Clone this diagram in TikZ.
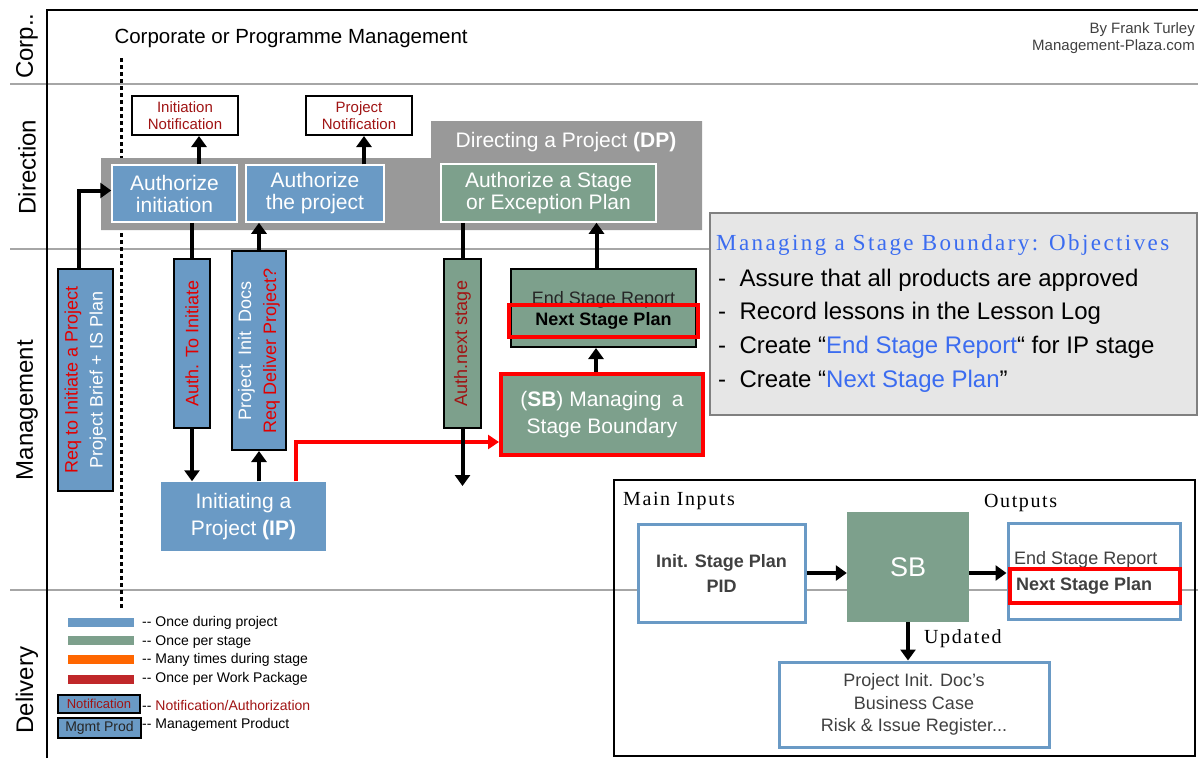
\documentclass[tikz,border=0pt]{standalone}
\usepackage{fontspec}
\setmainfont{Liberation Sans}
\newfontfamily\spacedserif[LetterSpace=8]{Liberation Serif}
\newfontfamily\widerserif[LetterSpace=10.5]{Liberation Serif}
\usetikzlibrary{arrows.meta}

\definecolor{onceproj}{RGB}{106,154,197}
\definecolor{oncestage}{RGB}{125,160,140}
\definecolor{dpgray}{RGB}{153,153,153}
\definecolor{notifred}{RGB}{160,20,20}
\definecolor{reqred}{RGB}{225,0,0}
\definecolor{objblue}{RGB}{59,108,240}
\definecolor{objgray}{RGB}{230,230,230}
\definecolor{lanegray}{RGB}{166,166,166}
\definecolor{textgray}{RGB}{64,64,64}
\definecolor{manyorange}{RGB}{255,102,0}
\definecolor{wpred}{RGB}{192,40,42}

\tikzset{
  lane/.style={lanegray, line width=2pt},
  plain/.style={line width=4pt},
  arr/.style={line width=4pt, -{Triangle[length=11pt,width=15pt]}},
  redarr/.style={red, line width=3.5pt, -{Triangle[length=11pt,width=14pt]}},
  procbox/.style={draw=white, line width=1.5pt, text=white, align=center, inner sep=0pt, font=\fontsize{21}{22}\selectfont},
  notifbox/.style={draw=black, line width=2pt, fill=white, text=notifred, align=center, inner sep=0pt, font=\fontsize{15}{17}\selectfont},
  prodbox/.style={draw=black, line width=2pt, rotate=90, align=center, inner sep=0pt, font=\fontsize{18}{25}\selectfont},
  outline/.style={draw=onceproj, line width=3pt, fill=white, align=center, inner sep=0pt, text=textgray},
  legtext/.style={anchor=west, inner sep=0pt, font=\fontsize{14}{16}\selectfont}
}

\begin{document}
\begin{tikzpicture}[x=1pt, y=-1pt]
\useasboundingbox (0,0) rectangle (1198,758);

\draw[lane] (10,84) -- (1198,84);
\draw[lane] (10,249) -- (1198,249);
\draw[lane] (10,590) -- (1198,590);
\draw[line width=2.5pt] (47,758) -- (47,10) -- (1198,10);

\node[rotate=90, font=\fontsize{24}{26}\selectfont] (lanecorp) at (27,46) {Corp..};
\node[rotate=90, font=\fontsize{24}{26}\selectfont] (lanedir) at (27,167) {Direction};
\node[rotate=90, font=\fontsize{24}{26}\selectfont] (lanemgmt) at (27,410) {Management};
\node[rotate=90, font=\fontsize{24}{26}\selectfont] (lanedel) at (27,690) {Delivery};

\node[anchor=west, font=\fontsize{20.5}{23}\selectfont] (corptitle) at (111,38) {Corporate or Programme Management};
\node[anchor=base east, inner sep=0pt, text=textgray, font=\fontsize{15}{17}\selectfont] (byline) at (1195,33) {By Frank Turley};
\node[anchor=base east, inner sep=0pt, text=textgray, font=\fontsize{15}{17}\selectfont] (siteline) at (1195,50) {Management-Plaza.com};

\draw[line width=3pt, dash pattern=on 4pt off 3pt] (121,58) -- (121,608);

\fill[dpgray] (101,158) -- (431,158) -- (431,121) -- (702,121) -- (702,230) -- (101,230) -- cycle;
\node[text=white, font=\fontsize{21}{23}\selectfont] (dptitle) at (566,142) {Directing a Project \textbf{(DP)}};

\node[procbox, fill=onceproj, minimum width=125pt, minimum height=57pt] (authinit) at (174.5,193.5) {Authorize\\initiation};
\node[procbox, fill=onceproj, minimum width=138pt, minimum height=57pt] (authproj) at (315,193.5) {Authorize\\the project};
\node[procbox, fill=oncestage, minimum width=215pt, minimum height=58pt] (authstage) at (548.5,193) {Authorize a Stage\\or Exception Plan};

\node[notifbox, minimum width=106pt, minimum height=39pt] (initnotif) at (185,115.5) {Initiation\\Notification};
\node[notifbox, minimum width=106pt, minimum height=39pt] (projnotif) at (359,115.5) {Project\\Notification};

\node[prodbox, fill=onceproj, text=white, minimum width=222pt, minimum height=55pt] (reqbox) at (85.5,380) {\textcolor{reqred}{Req to Initiate a Project}\\Project Brief + IS Plan};
\node[prodbox, fill=onceproj, text=reqred, minimum width=169pt, minimum height=36pt] (authto) at (192,343.5) {Auth. To Initiate};
\node[prodbox, fill=onceproj, text=white, minimum width=199pt, minimum height=54pt] (pidbox) at (259,350.5) {Project\enspace Init\enspace Docs\\\textcolor{reqred}{Req Deliver Project?}};
\node[prodbox, fill=oncestage, text=notifred, minimum width=169pt, minimum height=37pt] (nextbox) at (462.5,343.5) {Auth.next stage};

\node[procbox, draw=none, fill=onceproj, minimum width=165pt, minimum height=69pt, font=\fontsize{21}{27}\selectfont] (ip) at (243.5,516.5) {Initiating a\\Project \textbf{(IP)}};

\node[draw=black, line width=2pt, fill=oncestage, minimum width=185pt, minimum height=78pt] (endbox) at (603.5,308) {};
\node[anchor=base, inner sep=0pt, text=black!85, font=\fontsize{18}{20}\selectfont] (endtext) at (603.5,304) {End Stage Report};
\node[draw=red, line width=3.5pt, minimum width=189pt, minimum height=32pt, inner sep=0pt, font=\bfseries\fontsize{18}{20}\selectfont] (nspbox) at (603.5,321) {Next Stage Plan};

\node[procbox, draw=red, line width=4pt, fill=oncestage, minimum width=202pt, minimum height=81pt, font=\fontsize{21}{27}\selectfont] (sb) at (602,414.5) {(\textbf{SB}) Managing\enspace a\\Stage Boundary};

\coordinate (authout) at (462.5,486);
\coordinate (pn) at ([xshift=5pt]projnotif.south);
\coordinate (sbup) at ([xshift=-6pt]sb.north);
\coordinate (endup) at ([xshift=-7pt]endbox.north);

\draw[arr] ([xshift=-6.5pt]reqbox.east) |- ([yshift=3pt]authinit.west);
\draw[arr] ([xshift=24.5pt]authinit.north) -- ([xshift=24.5pt]authinit.north |- initnotif.south);
\draw[arr] (pn |- authproj.north) -- (pn);
\draw[plain] (authto.east |- authinit.south) -- (authto.east);
\draw[arr] (authto.west) -- (authto.west |- ip.north);
\draw[arr] (ip.north -| pidbox.west) -- (pidbox.west);
\draw[arr] (pidbox.east) -- (pidbox.east |- authproj.south);
\draw[redarr] ([xshift=52.5pt]ip.north) |- ([yshift=-27.5pt]sb.west);
\draw[plain] (nextbox.east |- authstage.south) -- (nextbox.east);
\draw[arr] (nextbox.west) -- (authout);
\draw[arr] (sbup) -- (sbup |- endbox.south);
\draw[arr] (endup) -- (endup |- authstage.south);

\draw[draw=gray, line width=2pt, fill=objgray] (710,213) rectangle (1197,415);
\node[anchor=base west, inner sep=0pt, text=objblue, font=\widerserif\fontsize{23}{25}\selectfont] (objtitle) at (716,250) {Managing a Stage Boundary: Objectives};
\node[anchor=base west, inner sep=0pt, font=\fontsize{24}{26}\selectfont] (objone) at (718,286) {-\ \ Assure that all products are approved};
\node[anchor=base west, inner sep=0pt, font=\fontsize{24}{26}\selectfont] (objtwo) at (718,319) {-\ \ Record lessons in the Lesson Log};
\node[anchor=base west, inner sep=0pt, font=\fontsize{24}{26}\selectfont] (objthree) at (718,353) {-\ \ Create “\textcolor{objblue}{End Stage Report}“ for IP stage};
\node[anchor=base west, inner sep=0pt, font=\fontsize{24}{26}\selectfont] (objfour) at (718,387) {-\ \ Create “\textcolor{objblue}{Next Stage Plan}”};

\fill[onceproj] (68,618) rectangle (134,627);
\fill[oncestage] (68,636) rectangle (134,645);
\fill[manyorange] (68,655) rectangle (134,664);
\fill[wpred] (68,675) rectangle (134,684);
\node[legtext] (legone) at (142,623) {-{}- Once during project};
\node[legtext] (legtwo) at (142,642) {-{}- Once per stage};
\node[legtext] (legthree) at (142,660) {-{}- Many times during stage};
\node[legtext] (legfour) at (142,679) {-{}- Once per Work Package};
\node[draw=black, line width=2.5pt, fill=onceproj, minimum width=82pt, minimum height=18pt, inner sep=0pt, text=notifred, font=\fontsize{13}{15}\selectfont] (legnotif) at (99,704) {Notification};
\node[legtext] (legfive) at (142,705) {-{}- \textcolor{notifred}{Notification/Authorization}};
\node[draw=black, line width=2.5pt, fill=onceproj, minimum width=83pt, minimum height=20pt, inner sep=0pt, text=black!85, font=\fontsize{14}{16}\selectfont] (legprod) at (99.5,728) {Mgmt Prod};
\node[legtext] (legsix) at (142,725) {-{}- Management Product};

\draw[line width=2pt] (614,480) rectangle (1195,756);
\node[anchor=base west, inner sep=0pt, font=\spacedserif\fontsize{20}{22}\selectfont] (mainin) at (623,505) {Main Inputs};
\node[anchor=base west, inner sep=0pt, font=\spacedserif\fontsize{20}{22}\selectfont] (mainout) at (984,507) {Outputs};
\node[outline, minimum width=167pt, minimum height=98pt, font=\bfseries\fontsize{18}{25}\selectfont] (stageinputs) at (721.5,573) {Init. Stage Plan\\PID};
\node[fill=oncestage, minimum width=122pt, minimum height=110pt, text=white, font=\fontsize{27}{30}\selectfont] (sbmini) at (908,567) {SB};
\node[outline, minimum width=172pt, minimum height=96pt] (stageoutputs) at (1094,571) {};
\node[anchor=base west, inner sep=0pt, text=textgray, font=\fontsize{18}{20}\selectfont] (outend) at (1014,564) {End Stage Report};
\node[draw=red, line width=3.5pt, minimum width=170pt, minimum height=34pt] (outnspbox) at (1095,586) {};
\node[anchor=base west, inner sep=0pt, text=textgray, font=\bfseries\fontsize{18}{20}\selectfont] (outnsp) at (1016,590) {Next Stage Plan};
\node[outline, minimum width=270pt, minimum height=85pt, font=\fontsize{18}{22.5}\selectfont] (docsupdated) at (914,704.5) {Project Init. Doc's\\Business Case\\Risk \& Issue Register...};
\node[anchor=base west, inner sep=0pt, font=\spacedserif\fontsize{20}{22}\selectfont] (updlabel) at (924,643) {Updated};

\draw[arr] (stageinputs.east) -- (stageinputs.east -| sbmini.west);
\draw[arr] (sbmini.east |- stageinputs.east) -- (stageinputs.east -| stageoutputs.west);
\draw[arr] (sbmini.south) -- (sbmini.south |- docsupdated.north);
\end{tikzpicture}
\end{document}
